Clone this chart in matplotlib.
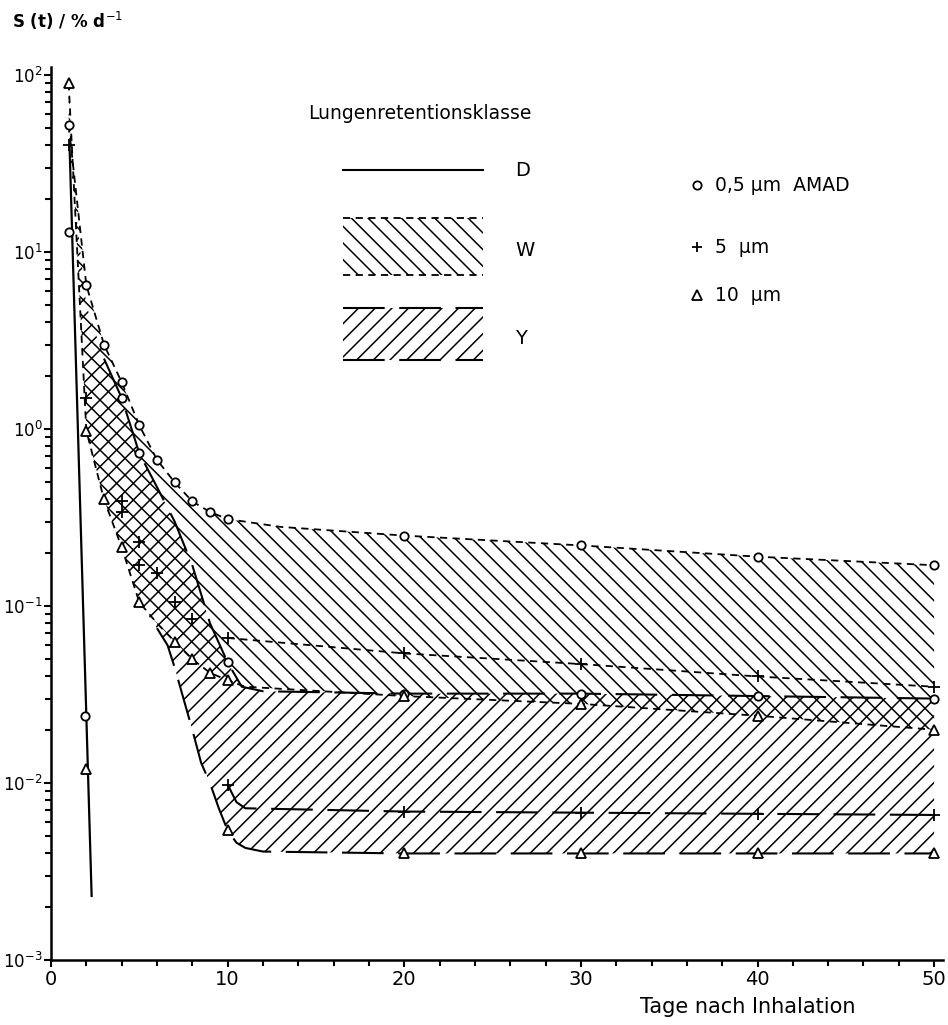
import matplotlib.pyplot as plt
from matplotlib.ticker import FixedLocator, LogLocator, NullFormatter

plt.rcParams['font.family'] = ['DejaVu Sans']
plt.rcParams['hatch.linewidth'] = 1.1
plt.rcParams['axes.unicode_minus'] = False

# Klasse D (alle Teilchengroessen praktisch gleich)
d_days = [1.05, 2.3]
d_vals = [40, 0.0023]
d_circle_days = [1.0, 1.9]
d_circle_vals = [13, 0.024]
d_tri_days = [2.0]
d_tri_vals = [0.012]

# Klasse W, 0,5 um (obere Grenze)
w05_days = [1, 2, 3, 4, 5, 6, 7, 8, 9, 10, 13, 20, 30, 40, 50]
w05_vals = [52, 6.5, 3.0, 1.84, 1.05, 0.67, 0.50, 0.39, 0.34, 0.31, 0.28, 0.25, 0.22, 0.19, 0.17]
w05_marked = [0, 1, 2, 3, 4, 5, 6, 7, 8, 9, 11, 12, 13, 14]
# Klasse W, 10 um (untere Grenze)
w10_days = [1, 2, 3, 4, 5, 6, 7, 8, 9, 10, 11, 20, 30, 40, 50]
w10_vals = [90, 0.98, 0.40, 0.215, 0.105, 0.08, 0.063, 0.050, 0.042, 0.038, 0.035, 0.031, 0.028, 0.024, 0.020]
w10_marked = [0, 1, 2, 3, 4, 6, 7, 8, 9, 11, 12, 13, 14]
# Klasse W, 5 um
w5_days = [1, 2, 4, 5, 6, 7, 8, 10, 20, 30, 40, 50]
w5_vals = [40, 1.5, 0.39, 0.23, 0.153, 0.105, 0.085, 0.066, 0.054, 0.047, 0.040, 0.035]

# Klasse Y, 0,5 um (obere Grenze)
y05_days = [1, 2, 3, 4, 5, 6, 7, 8, 9, 10, 10.8, 12, 20, 30, 40, 50]
y05_vals = [40, 5.0, 2.5, 1.5, 0.73, 0.47, 0.30, 0.17, 0.08, 0.048, 0.035, 0.033, 0.032, 0.032, 0.031, 0.030]
y05_marked = [3, 4, 9, 12, 13, 14, 15]
# Klasse Y, 10 um (untere Grenze)
y10_days = [1, 2, 3, 4, 5, 6, 6.6, 7, 7.5, 8, 8.5, 9, 9.5, 10, 10.5, 11, 12, 20, 30, 40, 50]
y10_vals = [90, 0.98, 0.40, 0.215, 0.105, 0.075, 0.06, 0.045, 0.03, 0.02, 0.013, 0.010, 0.0072,
            0.0054, 0.0046, 0.0043, 0.0041, 0.0040, 0.0040, 0.0040, 0.0040]
y10_marked = [13, 17, 18, 19, 20]
# Klasse Y, 5 um
y5_days = [4, 5, 10, 10.5, 11, 20, 30, 40, 50]
y5_vals = [0.34, 0.17, 0.0098, 0.0078, 0.0072, 0.0069, 0.0068, 0.0067, 0.0066]
y5_marked = [0, 1, 2, 5, 6, 7, 8]

short_dash = (0, (4, 3))
long_dash = (0, (20, 7))

fig = plt.figure(figsize=(9.48, 10.25), dpi=100)
ax = fig.add_axes([0.0538, 0.0634, 0.9409, 0.8712])

# Flaechen (Schraffur; Ueberlappung ergibt Kreuzschraffur)
ax.fill(w05_days + w10_days[::-1], w05_vals + w10_vals[::-1],
        facecolor='none', edgecolor='black', hatch='\\\\', linewidth=0)
ax.fill(y05_days + y10_days[::-1], y05_vals + y10_vals[::-1],
        facecolor='none', edgecolor='black', hatch='//', linewidth=0)

# Kurven
ax.plot(d_days, d_vals, color='black', lw=1.6)
ax.plot(w05_days, w05_vals, color='black', lw=1.3, ls=short_dash)
ax.plot(w10_days, w10_vals, color='black', lw=1.3, ls=short_dash)
ax.plot(w5_days[7:], w5_vals[7:], color='black', lw=1.3, ls=short_dash)
ax.plot(y05_days[2:], y05_vals[2:], color='black', lw=1.5, ls=long_dash)
ax.plot(y10_days[5:], y10_vals[5:], color='black', lw=1.5, ls=long_dash)
ax.plot(y5_days[2:], y5_vals[2:], color='black', lw=1.5, ls=long_dash)

# Messpunkte
mk = dict(color='black', ls='none', mfc='white', mew=1.3)
circ_x = d_circle_days + [w05_days[i] for i in w05_marked] + [y05_days[i] for i in y05_marked]
circ_y = d_circle_vals + [w05_vals[i] for i in w05_marked] + [y05_vals[i] for i in y05_marked]
ax.plot(circ_x, circ_y, marker='o', ms=6, **mk)
plus_x = w5_days + [y5_days[i] for i in y5_marked]
plus_y = w5_vals + [y5_vals[i] for i in y5_marked]
ax.plot(plus_x, plus_y, marker='+', ms=9, **mk)
tri_x = d_tri_days + [w10_days[i] for i in w10_marked] + [y10_days[i] for i in y10_marked]
tri_y = d_tri_vals + [w10_vals[i] for i in w10_marked] + [y10_vals[i] for i in y10_marked]
ax.plot(tri_x, tri_y, marker='^', ms=7, **mk)

# Achsen
ax.set_yscale('log')
ax.set_ylim(1e-3, 111)
ax.set_xlim(0, 50.5)
ax.spines['top'].set_visible(False)
ax.spines['right'].set_visible(False)
ax.spines['left'].set_linewidth(1.8)
ax.spines['bottom'].set_linewidth(1.8)
ax.set_xticks([0, 10, 20, 30, 40, 50])
ax.xaxis.set_minor_locator(FixedLocator(list(range(0, 51, 2))))
ax.yaxis.set_major_locator(LogLocator(base=10, numticks=10))
ax.yaxis.set_minor_locator(LogLocator(base=10, subs=range(2, 10), numticks=20))
ax.yaxis.set_minor_formatter(NullFormatter())
ax.tick_params(which='both', direction='out', width=1.5, colors='black')
ax.tick_params(which='major', length=5, pad=2)
ax.tick_params(axis='x', labelsize=14)
ax.tick_params(axis='y', labelsize=12, pad=1)
ax.tick_params(which='minor', length=4)

fig.text(0.013, 0.980, 'S (t) / % d$^{-1}$', fontsize=12, fontweight='bold', va='center')
fig.text(0.789, 0.018, 'Tage nach Inhalation', fontsize=15, ha='center', va='center')

# Legende
t = ax.transAxes
def ax_xy(px, py):
    return ((px - 51) / (943 - 51), (960 - py) / (960 - 67))

x0, y0 = ax_xy(308, 113)
ax.text(x0, y0, 'Lungenretentionsklasse', transform=t, fontsize=13.5, va='center')
xa, ya = ax_xy(343, 170)
xb, _ = ax_xy(483, 170)
ax.plot([xa, xb], [ya, ya], color='black', lw=1.5, transform=t)
xt, _ = ax_xy(515, 0)
ax.text(xt, ya, 'D', transform=t, fontsize=14, va='center')
_, wt = ax_xy(0, 218)
_, wb = ax_xy(0, 275)
ax.fill_between([xa, xb], [wb, wb], [wt, wt], transform=t, facecolor='none',
                edgecolor='black', hatch='\\\\', linewidth=0)
ax.plot([xa, xb], [wt, wt], color='black', lw=1.3, ls=short_dash, transform=t)
ax.plot([xa, xb], [wb, wb], color='black', lw=1.3, ls=short_dash, transform=t)
ax.text(xt, (wt + wb) / 2 - 0.005, 'W', transform=t, fontsize=14, va='center')
_, yt = ax_xy(0, 308)
_, yb = ax_xy(0, 360)
ax.fill_between([xa, xb], [yb, yb], [yt, yt], transform=t, facecolor='none',
                edgecolor='black', hatch='//', linewidth=0)
ax.plot([xa, xb], [yt, yt], color='black', lw=1.5, ls=long_dash, transform=t)
ax.plot([xa, xb], [yb, yb], color='black', lw=1.5, ls=long_dash, transform=t)
ax.text(xt, (yt + yb) / 2 - 0.005, 'Y', transform=t, fontsize=14, va='center')

xm, _ = ax_xy(697, 0)
xs, _ = ax_xy(715, 0)
for py, m, label in [(185, 'o', '0,5 µm  AMAD'), (247, '+', '5  µm'), (295, '^', '10  µm')]:
    _, yy = ax_xy(0, py)
    ax.plot([xm], [yy], marker=m, ms=7 if m != 'o' else 6, transform=t, **mk)
    ax.text(xs, yy, label, transform=t, fontsize=13.5, va='center')

fig.savefig('out.png', dpi=100)
